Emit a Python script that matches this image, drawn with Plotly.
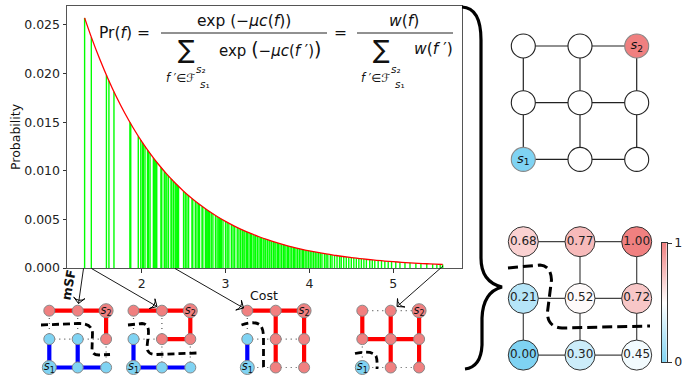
import plotly.graph_objects as go

# ---------------- data ----------------
x_ticks = [2, 3, 4, 5]
y_ticks = [0.0, 0.005, 0.010, 0.015, 0.020, 0.025]

curve_cost = [1.32, 1.4, 1.5, 1.6, 1.7, 1.8, 1.9, 2.0, 2.1, 2.2, 2.3, 2.4, 2.5, 2.6, 2.7,
              2.8, 2.9, 3.0, 3.1, 3.2, 3.3, 3.4, 3.5, 3.6, 3.7, 3.8, 3.9, 4.0, 4.1, 4.2,
              4.3, 4.4, 4.5, 4.6, 4.7, 4.8, 4.9, 5.0, 5.1, 5.2, 5.3, 5.4, 5.5, 5.59]
curve_prob = [0.025725, 0.023747, 0.021487, 0.019443, 0.017592, 0.015918, 0.014404, 0.013033,
              0.011793, 0.010670, 0.009655, 0.008736, 0.007905, 0.007153, 0.006472,
              0.005856, 0.005299, 0.004794, 0.004338, 0.003925, 0.003552, 0.003214,
              0.002908, 0.002631, 0.002381, 0.002154, 0.001949, 0.001764, 0.001596,
              0.001444, 0.001307, 0.001182, 0.001070, 0.000968, 0.000876, 0.000793,
              0.000717, 0.000649, 0.000587, 0.000531, 0.000481, 0.000435, 0.000394, 0.000360]

forest_cost = [1.32, 1.40, 1.58, 1.61, 1.67, 1.86, 1.87, 1.96, 1.99, 2.01,
               2.02, 2.04, 2.07, 2.08, 2.10, 2.14, 2.15, 2.16, 2.17, 2.18,
               2.23, 2.24, 2.27, 2.28, 2.30, 2.32, 2.35, 2.36, 2.38, 2.40,
               2.41, 2.42, 2.43, 2.44, 2.50, 2.52, 2.54, 2.56, 2.60, 2.61,
               2.64, 2.66, 2.68, 2.69, 2.72, 2.73, 2.76, 2.77, 2.78, 2.79,
               2.80, 2.81, 2.83, 2.85, 2.88, 2.90, 2.92, 2.93, 2.94, 2.95,
               2.97, 3.00, 3.02, 3.04, 3.07, 3.09, 3.11, 3.14, 3.16, 3.18,
               3.20, 3.21, 3.23, 3.25, 3.26, 3.28, 3.30, 3.31, 3.33, 3.35,
               3.36, 3.38, 3.40, 3.42, 3.43, 3.45, 3.47, 3.48, 3.50, 3.52,
               3.53, 3.55, 3.57, 3.58, 3.60, 3.62, 3.63, 3.65, 3.67, 3.69,
               3.70, 3.72, 3.74, 3.75, 3.77, 3.79, 3.81, 3.82, 3.84, 3.86,
               3.88, 3.90, 3.92, 3.93, 3.95, 3.97, 3.99, 4.01, 4.03, 4.05,
               4.07, 4.09, 4.11, 4.13, 4.15, 4.18, 4.20, 4.22, 4.25, 4.27,
               4.30, 4.33, 4.36, 4.38, 4.41, 4.44, 4.47, 4.50, 4.53, 4.56,
               4.59, 4.62, 4.65, 4.68, 4.72, 4.75, 4.78, 4.82, 4.86, 4.90,
               4.94, 4.98, 5.03, 5.08, 5.14, 5.20, 5.27, 5.33, 5.40, 5.47,
               5.52, 5.56, 5.59]
forest_prob = [0.025725, 0.023747, 0.019835, 0.019250, 0.018128, 0.014991, 0.014842, 0.013565, 0.013164, 0.012903,
               0.012775, 0.012522, 0.012152, 0.012031, 0.011793, 0.011331, 0.011218, 0.011106, 0.010996, 0.010886,
               0.010355, 0.010252, 0.009949, 0.009850, 0.009655, 0.009464, 0.009184, 0.009093, 0.008913, 0.008736,
               0.008649, 0.008563, 0.008478, 0.008393, 0.007905, 0.007748, 0.007595, 0.007445, 0.007153, 0.007082,
               0.006873, 0.006737, 0.006603, 0.006537, 0.006344, 0.006281, 0.006095, 0.006034, 0.005974, 0.005915,
               0.005856, 0.005798, 0.005683, 0.005570, 0.005406, 0.005299, 0.005194, 0.005142, 0.005091, 0.005041,
               0.004941, 0.004794, 0.004699, 0.004606, 0.004470, 0.004381, 0.004295, 0.004168, 0.004085, 0.004005,
               0.003925, 0.003886, 0.003809, 0.003734, 0.003696, 0.003623, 0.003552, 0.003517, 0.003447, 0.003379,
               0.003345, 0.003279, 0.003214, 0.003150, 0.003119, 0.003057, 0.002997, 0.002967, 0.002908, 0.002850,
               0.002822, 0.002766, 0.002711, 0.002684, 0.002631, 0.002579, 0.002553, 0.002503, 0.002453, 0.002405,
               0.002381, 0.002334, 0.002288, 0.002265, 0.002220, 0.002176, 0.002133, 0.002111, 0.002070, 0.002029,
               0.001988, 0.001949, 0.001910, 0.001891, 0.001854, 0.001817, 0.001781, 0.001746, 0.001712, 0.001678,
               0.001645, 0.001612, 0.001580, 0.001549, 0.001518, 0.001473, 0.001444, 0.001415, 0.001374, 0.001346,
               0.001307, 0.001268, 0.001231, 0.001207, 0.001170, 0.001136, 0.001102, 0.001070, 0.001038, 0.001008,
               0.000978, 0.000949, 0.000921, 0.000894, 0.000859, 0.000833, 0.000809, 0.000777, 0.000747, 0.000717,
               0.000689, 0.000662, 0.000630, 0.000599, 0.000564, 0.000531, 0.000495, 0.000467, 0.000435, 0.000406,
               0.000386, 0.000371, 0.000360]

# 3x3 grid graph: node index = row*3 + col, row 0 at the bottom
grid_col = [0, 1, 2, 0, 1, 2, 0, 1, 2]
grid_row = [0, 0, 0, 1, 1, 1, 2, 2, 2]
grid_edges = [(0, 1), (1, 2), (3, 4), (4, 5), (6, 7), (7, 8),
              (0, 3), (3, 6), (1, 4), (4, 7), (2, 5), (5, 8)]
s_nodes = [0, 8]
s_texts = ["<i>s</i><sub>1</sub>", "<i>s</i><sub>2</sub>"]

# probability-of-connection values of the bottom-right graph
node_values = [0.00, 0.30, 0.45, 0.21, 0.52, 0.72, 0.68, 0.77, 1.00]
cbar_ticks = [0, 1]

# four sampled spanning forests (r = s2 tree, b = s1 tree)
forest_sides = ["bbbbbrrrr", "bbbbrrrrr", "brrbrrrrr", "brrrrrrrr"]
forest_red_edges = [
    [(6, 7), (7, 8), (8, 5)],
    [(6, 7), (7, 8), (8, 5), (4, 5)],
    [(6, 7), (7, 8), (7, 4), (4, 1), (8, 5), (5, 2)],
    [(6, 3), (7, 4), (8, 5), (3, 4), (4, 5), (4, 1), (5, 2)],
]
forest_blue_edges = [
    [(3, 0), (4, 1), (0, 1), (1, 2)],
    [(3, 0), (0, 1), (1, 2)],
    [(3, 0)],
    [],
]

# ---------------- figure ----------------
W, H = 684, 375
FONT = "DejaVu Sans"
RED = "#f08080"
BLUE = "#7fd3f3"
cscale = [[0, BLUE], [0.5, "#ffffff"], [1, RED]]
fig = go.Figure()

# main chart
gx, gy = [], []
for c, p in zip(forest_cost, forest_prob):
    gx += [c, c, None]
    gy += [0, p, None]
fig.add_trace(go.Scatter(x=gx, y=gy, mode="lines", line=dict(color="#00ff00", width=1.4),
                         hoverinfo="skip", xaxis="x", yaxis="y"))
fig.add_trace(go.Scatter(x=curve_cost, y=curve_prob, mode="lines",
                         line=dict(color="red", width=1.3, shape="spline"), xaxis="x", yaxis="y"))

axis_font = dict(family=FONT, size=12.5, color="#222")
layout_axes = {
    "xaxis": dict(domain=[67 / W, 462 / W], range=[1.11, 5.82], tickvals=x_ticks,
                  ticks="outside", ticklen=3.5, tickcolor="#333", showline=True, mirror=True,
                  linecolor="#555", linewidth=1, showgrid=False, zeroline=False,
                  tickfont=axis_font, anchor="y", automargin=False),
    "yaxis": dict(domain=[1 - 268 / H, 1 - 6 / H], range=[0, 0.02695], tickvals=y_ticks,
                  tickformat=".3f", ticks="outside", ticklen=3.5, tickcolor="#333",
                  showline=True, mirror=True, linecolor="#555", linewidth=1, showgrid=False,
                  zeroline=False, tickfont=axis_font, anchor="x", automargin=False),
}


def grid_axes(k, x0, ytop, s, yb):
    bottom = ytop + 2 * s - yb * s
    top = ytop - 0.5 * s
    layout_axes[f"xaxis{k}"] = dict(domain=[(x0 - 0.5 * s) / W, (x0 + 2.5 * s) / W],
                                    range=[-0.5, 2.5], visible=False, anchor=f"y{k}",
                                    automargin=False)
    layout_axes[f"yaxis{k}"] = dict(domain=[max(0, 1 - bottom / H), 1 - top / H],
                                    range=[yb, 2.5], visible=False, anchor=f"x{k}",
                                    automargin=False)


def edge_trace(edges, k, color, width, dash="solid"):
    ex, ey = [], []
    for a, b in edges:
        ex += [grid_col[a], grid_col[b], None]
        ey += [grid_row[a], grid_row[b], None]
    return go.Scatter(x=ex, y=ey, mode="lines", line=dict(color=color, width=width, dash=dash),
                      hoverinfo="skip", xaxis=f"x{k}", yaxis=f"y{k}")


def s_label_trace(k, size):
    return go.Scatter(x=[grid_col[i] for i in s_nodes], y=[grid_row[i] for i in s_nodes],
                      mode="text", text=s_texts, textposition="middle center",
                      textfont=dict(family=FONT, size=size, color="#111"), cliponaxis=False,
                      hoverinfo="skip", xaxis=f"x{k}", yaxis=f"y{k}")


# top-right graph (axes 2)
grid_axes(2, 523.3, 46, 56.7, -0.5)
fig.add_trace(edge_trace(grid_edges, 2, "#222", 1.2))
tr_fill = ["white"] * 9
tr_line = ["#222"] * 9
tr_fill[0], tr_fill[8] = BLUE, RED
tr_line[0], tr_line[8] = "#888", "#888"
fig.add_trace(go.Scatter(x=grid_col, y=grid_row, mode="markers",
                         marker=dict(size=24, color=tr_fill, opacity=1,
                                     line=dict(color=tr_line, width=1.1)),
                         cliponaxis=False, hoverinfo="skip", xaxis="x2", yaxis="y2"))
fig.add_trace(s_label_trace(2, 13))

# bottom-right graph (axes 3)
grid_axes(3, 523.3, 241.7, 56.7, -0.25)
fig.add_trace(edge_trace(grid_edges, 3, "#444", 1.2))
fig.add_trace(go.Scatter(
    x=grid_col, y=grid_row, mode="markers+text",
    marker=dict(size=30, color=node_values, colorscale=cscale, cmin=0, cmax=1, opacity=1,
                line=dict(color="#333", width=1), showscale=False),
    text=[f"{v:.2f}" for v in node_values], textposition="middle center",
    textfont=dict(family=FONT, size=12, color="#222"), cliponaxis=False,
    hoverinfo="skip", xaxis="x3", yaxis="y3"))

# colour bar drawn as a heatmap in its own axes (9)
layout_axes["xaxis9"] = dict(domain=[661.7 / W, 666.7 / W], range=[0, 1], showticklabels=False,
                             showline=True, mirror=True, linecolor="#333", linewidth=1,
                             showgrid=False, zeroline=False, ticks="", anchor="y9",
                             automargin=False)
layout_axes["yaxis9"] = dict(domain=[1 - 362 / H, 1 - 243 / H], range=[0, 1], side="right",
                             tickvals=cbar_ticks, ticktext=[str(t) for t in cbar_ticks],
                             ticks="outside", ticklen=4, tickcolor="#333", showline=True,
                             mirror=True, linecolor="#333", linewidth=1, showgrid=False,
                             zeroline=False, tickfont=axis_font, anchor="x9", automargin=False)
fig.add_trace(go.Heatmap(z=[[cbar_ticks[0], cbar_ticks[0]], [cbar_ticks[1], cbar_ticks[1]]],
                         x=[0, 1], y=cbar_ticks, colorscale=cscale, zmin=0, zmax=1,
                         zsmooth="best", showscale=False, hoverinfo="skip",
                         xaxis="x9", yaxis="y9"))

# four small forests (axes 4-7)
small_x0 = [49.3, 133.5, 247.3, 362.3]
for i in range(4):
    k = 4 + i
    grid_axes(k, small_x0[i], 310.7, 28.4, -0.25)
    used = set(forest_red_edges[i]) | set(forest_blue_edges[i])
    used |= {(b, a) for a, b in used}
    dotted = [e for e in grid_edges if e not in used]
    fig.add_trace(edge_trace(dotted, k, "#555", 1.2, "1px,4px"))
    fig.add_trace(edge_trace(forest_red_edges[i], k, "#ff0000", 4.2))
    fig.add_trace(edge_trace(forest_blue_edges[i], k, "#0000ff", 4.2))
    sides = forest_sides[i]
    fig.add_trace(go.Scatter(
        x=grid_col, y=grid_row, mode="markers",
        marker=dict(size=[14 if j in s_nodes else 11 for j in range(9)], opacity=1,
                    color=[RED if ch == "r" else BLUE for ch in sides],
                    line=dict(color="#888", width=1)),
        cliponaxis=False, hoverinfo="skip", xaxis=f"x{k}", yaxis=f"y{k}"))
    fig.add_trace(s_label_trace(k, 11.5))

# pixel overlay axes (8) for decorations
layout_axes["xaxis8"] = dict(domain=[0, 1], range=[0, W], visible=False, anchor="y8",
                             automargin=False)
layout_axes["yaxis8"] = dict(domain=[0, 1], range=[H, 0], visible=False, anchor="x8",
                             automargin=False)

# arrows from forests in the histogram to the drawings
for (tx, ty, hx, hy) in [(83.5, 268.5, 78.5, 303.5), (91.5, 268.5, 157, 306.5),
                         (175, 268.5, 243.5, 308), (443, 266, 397, 306.5)]:
    fig.add_trace(go.Scatter(x=[tx, hx], y=[ty, hy], mode="lines+markers",
                             line=dict(color="black", width=0.9),
                             marker=dict(symbol="arrow-wide-open", size=[0, 8], opacity=1,
                                         angleref="previous", color="black",
                                         line=dict(color="black", width=1)),
                             cliponaxis=False, hoverinfo="skip", xaxis="x8", yaxis="y8"))

ann = []


def txt(x, y, t, size, **kw):
    d = dict(x=x, y=y, xref="x8", yref="y8", text=t, showarrow=False,
             font=dict(family=FONT, size=size, color="#111"), xanchor="center", yanchor="middle")
    d.update(kw)
    ann.append(d)


BIGL = "<span style='font-size:19px'>(</span>"
BIGR = "<span style='font-size:19px'>)</span>"

# axis titles
txt(15, 137, "Probability", 12.5, textangle=-90)
txt(264, 295, "Cost", 12.5)
txt(68, 285, "<b>mSF</b>", 12.5, textangle=-80)

# formula
txt(124.5, 33, "Pr(<i>f</i>) =", 15.5)
txt(243.5, 21, "exp (−<i>μc</i>(<i>f</i>))", 15.5)
txt(186, 49, "∑", 25)
txt(270, 49, "exp " + BIGL + "−<i>μc</i>(<i>f</i> ′)" + BIGR, 15)
txt(180, 78, "<i>f</i> ′∈ℱ", 11.5)
txt(200.5, 69, "<i>s</i>₂", 10.5)
txt(204.5, 84, "<i>s</i>₁", 10.5)
txt(340, 33, "=", 15.5)
txt(404, 21, "<i>w</i>(<i>f</i>)", 15.5)
txt(381, 49, "∑", 25)
txt(433, 49, "<i>w</i>(<i>f</i> ′)", 15.5)
txt(375, 78, "<i>f</i> ′∈ℱ", 11.5)
txt(395.5, 69, "<i>s</i>₂", 10.5)
txt(399.5, 84, "<i>s</i>₁", 10.5)

shapes = [
    dict(type="line", x0=161, x1=327, y0=33, y1=33, xref="x8", yref="y8",
         line=dict(color="#222", width=1)),
    dict(type="line", x0=357, x1=453, y0=33, y1=33, xref="x8", yref="y8",
         line=dict(color="#222", width=1)),
]
cut_paths = [
    "M 508,268 L 540,265 Q 551,266 551.5,280 L 547.5,312 Q 547,327 562,328 L 650,326",
    "M 41,325 L 78,323.5 Q 92,323 92.5,333 L 92,350 Q 92.5,355 99,355 L 110,354.5",
    "M 128,325 L 142,323.5 Q 149,324 148.5,333 L 147,347 Q 147,354.5 156,354.5 L 197,353",
    "M 241.5,325 Q 256,320 261,326 Q 263.5,330 263.5,338 L 263.5,369",
    "M 355,353.5 Q 372,350 376,356 Q 377.5,360 377,369",
]
for j, p in enumerate(cut_paths):
    shapes.append(dict(type="path", path=p, xref="x8", yref="y8", layer="above",
                       line=dict(color="black", width=3 if j == 0 else 2.8,
                                 dash="10px,5px" if j == 0 else "7px,4px")))
# curly brace
shapes.append(dict(type="path", xref="x8", yref="y8", layer="above",
                   path="M 462,7 Q 481,8 481,40 L 481,258 Q 481,282 502,287 "
                        "Q 483,292 482,318 L 482,345 Q 481,367 465,369",
                   line=dict(color="black", width=3.2)))

fig.update_layout(
    template="none", font=dict(family=FONT, color="#222"),
    width=W, height=H, margin=dict(l=0, r=0, t=0, b=0, pad=0),
    paper_bgcolor="white", plot_bgcolor="rgba(0,0,0,0)", showlegend=False,
    annotations=ann, shapes=shapes, **layout_axes,
)
fig.write_html("out.html", config={"displayModeBar": False},
               post_script="document.body.style.margin='0';"
                           "document.body.style.overflow='hidden';")
